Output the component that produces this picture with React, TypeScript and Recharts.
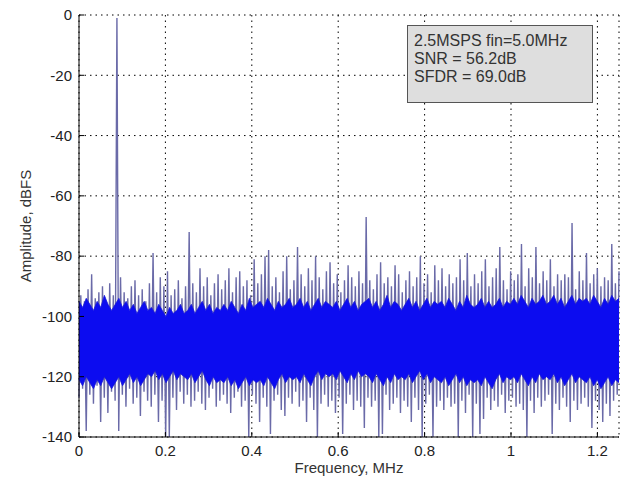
import { ComposedChart, Area, XAxis, YAxis, CartesianGrid } from 'recharts'

// upper excursion of each FFT bin pair (dBFS), tone at bin 10
const peaks = [
  -93, -95, -91, -86, -94, -92, -90, -95, -89, -93,
  -1, -87, -92, -94, -90, -88, -93, -91, -95, -89,
  -79, -92, -87, -90, -85, -93, -91, -88, -94, -90,
  -72, -89, -92, -84, -90, -87, -93, -89, -86, -91,
  -88, -84, -92, -87, -85, -90, -88, -93, -81, -89,
  -86, -80, -78, -90, -87, -92, -85, -80, -91, -88,
  -77, -86, -90, -84, -88, -80, -87, -91, -85, -82,
  -89, -86, -92, -88, -83, -87, -90, -85, -89, -67,
  -88, -91, -86, -82, -89, -87, -90, -83, -86, -92,
  -88, -85, -90, -87, -80, -89, -86, -92, -83, -88,
  -84, -90, -86, -89, -87, -81, -88, -79, -90, -86,
  -89, -85, -81, -90, -87, -84, -77, -88, -91, -85,
  -88, -86, -76, -90, -84, -87, -77, -89, -85, -88,
  -81, -90, -86, -88, -86, -87, -69, -91, -85, -88,
  -79, -89, -86, -84, -90, -87, -88, -76, -89, -85,
]

// lower excursion of each bin pair (dBFS)
const troughs = [
  -127, -124, -138, -126, -129, -123, -135, -127, -132, -125,
  -128, -138, -126, -130, -124, -129, -127, -133, -125, -128,
  -130, -126, -135, -128, -140, -140, -127, -131, -125, -129,
  -126, -130, -128, -125, -129, -131, -127, -124, -130, -128,
  -126, -129, -132, -127, -125, -130, -128, -140, -126, -129,
  -135, -127, -130, -139, -128, -126, -131, -133, -127, -129,
  -125, -130, -128, -135, -127, -131, -140, -129, -126, -130,
  -128, -132, -127, -139, -129, -126, -131, -128, -130, -137,
  -127, -130, -128, -140, -139, -126, -131, -129, -127, -132,
  -128, -130, -135, -127, -131, -140, -129, -126, -140, -130,
  -128, -131, -127, -130, -129, -140, -128, -132, -126, -140,
  -129, -139, -134, -127, -131, -128, -130, -126, -132, -128,
  -127, -130, -129, -131, -140, -128, -132, -127, -130, -128,
  -126, -139, -129, -131, -127, -130, -135, -128, -131, -129,
  -127, -130, -137, -128, -131, -135, -129, -133, -128, -126,
]

// dense noise floor edges
const bandTop = [
  -95, -97, -94, -96, -98, -95, -97, -93, -96, -98,
  -96, -94, -97, -95, -98, -96, -99, -97, -95, -98,
  -97, -99, -96, -98, -100, -97, -99, -98, -96, -99,
  -98, -96, -99, -97, -95, -98, -96, -99, -97, -98,
  -96, -98, -95, -97, -99, -96, -98, -94, -97, -96,
  -95, -97, -94, -96, -98, -95, -97, -96, -94, -97,
  -96, -94, -97, -95, -98, -96, -94, -97, -95, -96,
  -97, -95, -98, -96, -94, -97, -95, -98, -96, -95,
  -94, -97, -95, -98, -96, -93, -97, -95, -96, -98,
  -96, -94, -97, -95, -98, -96, -94, -97, -95, -96,
  -95, -97, -94, -96, -98, -95, -97, -93, -96, -97,
  -96, -94, -97, -95, -97, -96, -94, -97, -95, -96,
  -94, -96, -93, -95, -97, -94, -96, -95, -93, -96,
  -95, -93, -96, -94, -97, -95, -93, -96, -94, -95,
  -94, -96, -93, -95, -97, -94, -96, -93, -95, -94,
]
const bandBottom = [
  -121, -123, -120, -122, -124, -121, -123, -120, -122, -124,
  -122, -120, -123, -121, -119, -122, -120, -123, -121, -119,
  -120, -118, -121, -119, -122, -120, -118, -121, -119, -120,
  -121, -119, -122, -120, -118, -121, -123, -120, -122, -121,
  -122, -120, -123, -121, -124, -122, -120, -123, -121, -122,
  -121, -123, -120, -122, -124, -121, -119, -122, -120, -121,
  -120, -122, -119, -121, -123, -120, -118, -121, -119, -120,
  -119, -121, -118, -120, -122, -119, -121, -118, -120, -119,
  -120, -122, -119, -121, -123, -120, -122, -119, -121, -120,
  -121, -119, -122, -120, -118, -121, -119, -122, -120, -121,
  -122, -120, -123, -121, -119, -122, -120, -123, -121, -122,
  -121, -123, -120, -122, -124, -121, -119, -122, -120, -121,
  -120, -122, -119, -121, -123, -120, -122, -119, -121, -120,
  -121, -119, -122, -120, -123, -121, -119, -122, -120, -121,
  -122, -120, -123, -121, -124, -122, -120, -123, -121, -122,
]

const freqTicks = [0, 0.2, 0.4, 0.6, 0.8, 1, 1.2]
const ampTicks = [-140, -120, -100, -80, -60, -40, -20, 0]
const fMax = 1.25

const spectrum = peaks
  .flatMap((p, k) => [troughs[k], p])
  .map((amp, i, arr) => ({ freq: (i * fMax) / (arr.length - 1), amp }))

const band = bandTop.map((hi, i) => ({
  freq: (i * fMax) / (bandTop.length - 1),
  range: [bandBottom[i], hi],
}))

const tickStyle = { fill: '#222', fontSize: 15 }

export default function App() {
  return (
    <div style={{ position: 'relative', width: 627, height: 481, background: '#fff', fontFamily: '"Liberation Sans", Arial, sans-serif' }}>
      <style>{`body { margin: 0; }`}</style>
      <ComposedChart width={627} height={481} data={spectrum} margin={{ top: 15, right: 8, left: 0, bottom: 0 }}>
        <XAxis
          dataKey="freq"
          type="number"
          domain={[0, fMax]}
          ticks={freqTicks}
          height={44}
          tickSize={-5}
          tickMargin={13}
          tick={tickStyle}
          stroke="#000"
          label={{ value: 'Frequency, MHz', position: 'insideBottom', offset: 8, fill: '#333', fontSize: 15 }}
        />
        <XAxis xAxisId="top" orientation="top" type="number" domain={[0, fMax]} ticks={freqTicks} height={0} tickSize={-5} tick={false} stroke="#000" />
        <YAxis
          type="number"
          domain={[-140, 0]}
          ticks={ampTicks}
          width={79}
          tickSize={-5}
          tickMargin={12}
          tick={tickStyle}
          stroke="#000"
          label={({ viewBox }: any) => (
            <text
              x={25}
              y={viewBox.y + viewBox.height / 2}
              transform={`rotate(-90, 25, ${viewBox.y + viewBox.height / 2})`}
              textAnchor="middle"
              dominantBaseline="central"
              fill="#333"
              fontSize={15}
            >
              Amplitude, dBFS
            </text>
          )}
        />
        <YAxis yAxisId="right" orientation="right" type="number" domain={[-140, 0]} ticks={ampTicks} width={0} tickSize={-5} tick={false} stroke="#000" />
        {/* spectrum trace: stroke only, drawn under the dense floor */}
        <Area dataKey="amp" baseValue={-140} stroke="#6a6aa8" strokeWidth={1.4} fill="none" dot={false} isAnimationActive={false} />
        <Area data={band} dataKey="range" stroke="#1a1ad8" strokeWidth={0.8} fill="#0c0cf0" fillOpacity={1} isAnimationActive={false} />
        <CartesianGrid stroke="#000" strokeDasharray="1.5 4" />
      </ComposedChart>
      <div
        style={{
          position: 'absolute',
          left: 407,
          top: 25,
          width: 186,
          height: 78,
          background: '#dedede',
          border: '1px solid #555',
          color: '#333',
          fontSize: 16,
          lineHeight: '18px',
          padding: '6px 0 0 6px',
          boxSizing: 'border-box',
        }}
      >
        <div>2.5MSPS fin=5.0MHz</div>
        <div>SNR = 56.2dB</div>
        <div>SFDR = 69.0dB</div>
      </div>
    </div>
  )
}
